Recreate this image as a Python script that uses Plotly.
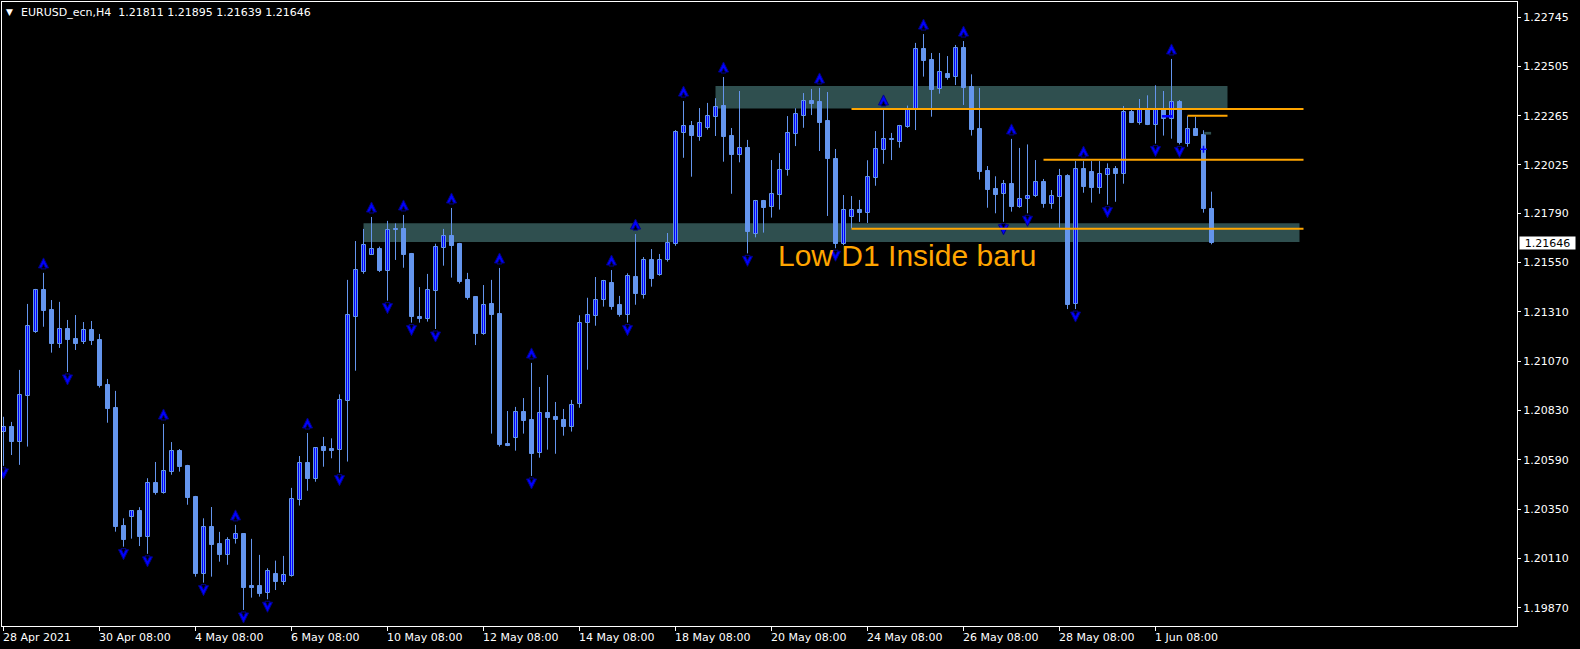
import plotly.graph_objects as go

SYMBOL = "EURUSD_ecn,H4"

OPEN = [1.20728, 1.20750, 1.20679, 1.20903, 1.21214, 1.21415, 1.21320, 1.21156, 1.21227, 1.21179,
        1.21162, 1.21222, 1.21174, 1.20955, 1.20843, 1.20269, 1.20311, 1.20342, 1.20214, 1.20478,
        1.20431, 1.20530, 1.20634, 1.20561, 1.20410, 1.20037, 1.20264, 1.20181, 1.20126, 1.20204,
        1.20230, 1.19975, 1.19977, 1.19941, 1.20037, 1.19996, 1.20027, 1.20397, 1.20574, 1.20499,
        1.20652, 1.20642, 1.20640, 1.20878, 1.21287, 1.21506, 1.21589, 1.21616, 1.21511, 1.21714,
        1.21714, 1.21592, 1.21284, 1.21277, 1.21413, 1.21623, 1.21680, 1.21641, 1.21466, 1.21383,
        1.21204, 1.21349, 1.21300, 1.20668, 1.20698, 1.20823, 1.20784, 1.20625, 1.20817, 1.20798,
        1.20784, 1.20752, 1.20861, 1.21255, 1.21292, 1.21367, 1.21451, 1.21342, 1.21297, 1.21480,
        1.21394, 1.21561, 1.21491, 1.21564, 1.21642, 1.22182, 1.22215, 1.22163, 1.22206, 1.22260,
        1.22312, 1.22165, 1.22075, 1.22108, 1.21689, 1.21848, 1.21819, 1.21881, 1.21999, 1.22177,
        1.22265, 1.22335, 1.22332, 1.22239, 1.22054, 1.21642, 1.21774, 1.21805, 1.21793, 1.21963,
        1.22099, 1.22153, 1.22138, 1.22211, 1.22291, 1.22589, 1.22536, 1.22393, 1.22466, 1.22452,
        1.22594, 1.22404, 1.22200, 1.21996, 1.21908, 1.21882, 1.21931, 1.21822, 1.21858, 1.21876,
        1.21942, 1.21837, 1.21871, 1.21970, 1.21347, 1.22004, 1.21991, 1.21915, 1.21978, 1.22004,
        1.21983, 1.22281, 1.22231, 1.22297, 1.22221, 1.22297, 1.22247, 1.22330, 1.22126, 1.22199,
        1.22171, 1.21811]
HIGH = [1.20800, 1.20775, 1.21028, 1.21349, 1.21422, 1.21500, 1.21368, 1.21359, 1.21271, 1.21295,
        1.21261, 1.21266, 1.21203, 1.20984, 1.20926, 1.20306, 1.20342, 1.20360, 1.20501, 1.20580,
        1.20765, 1.20677, 1.20643, 1.20566, 1.20415, 1.20306, 1.20361, 1.20240, 1.20214, 1.20274,
        1.20232, 1.20206, 1.20128, 1.20063, 1.20100, 1.20123, 1.20454, 1.20609, 1.20721, 1.20652,
        1.20702, 1.20695, 1.20909, 1.21466, 1.21655, 1.21714, 1.21772, 1.21628, 1.21753, 1.21741,
        1.21782, 1.21597, 1.21431, 1.21495, 1.21642, 1.21714, 1.21816, 1.21646, 1.21500, 1.21385,
        1.21441, 1.21466, 1.21524, 1.20828, 1.20848, 1.20891, 1.21062, 1.20945, 1.21003, 1.20872,
        1.20838, 1.20882, 1.21294, 1.21379, 1.21480, 1.21466, 1.21514, 1.21388, 1.21498, 1.21689,
        1.21577, 1.21616, 1.21592, 1.21694, 1.22195, 1.22336, 1.22239, 1.22302, 1.22327, 1.22350,
        1.22453, 1.22205, 1.22385, 1.22147, 1.21855, 1.21855, 1.22049, 1.22083, 1.22263, 1.22301,
        1.22375, 1.22395, 1.22400, 1.22380, 1.22103, 1.21879, 1.21874, 1.21855, 1.22048, 1.22190,
        1.22293, 1.22181, 1.22220, 1.22314, 1.22619, 1.22662, 1.22570, 1.22570, 1.22555, 1.22609,
        1.22628, 1.22466, 1.22400, 1.22020, 1.21970, 1.21952, 1.22152, 1.22108, 1.22125, 1.22049,
        1.21957, 1.21903, 1.22006, 1.21980, 1.22044, 1.22044, 1.22044, 1.22044, 1.22033, 1.22020,
        1.22312, 1.22293, 1.22346, 1.22364, 1.22413, 1.22385, 1.22541, 1.22341, 1.22263, 1.22260,
        1.22194, 1.21895]
LOW = [1.20561, 1.20614, 1.20566, 1.20655, 1.21208, 1.21238, 1.21112, 1.21135, 1.21018, 1.21125,
       1.21154, 1.21149, 1.20942, 1.20771, 1.20241, 1.20168, 1.20207, 1.20171, 1.20133, 1.20421,
       1.20426, 1.20518, 1.20533, 1.20372, 1.20022, 1.19993, 1.20022, 1.20095, 1.20080, 1.20183,
       1.19860, 1.19920, 1.19925, 1.19912, 1.19957, 1.19982, 1.20022, 1.20368, 1.20440, 1.20484,
       1.20557, 1.20598, 1.20528, 1.20582, 1.21024, 1.21496, 1.21587, 1.21504, 1.21365, 1.21563,
       1.21525, 1.21258, 1.21258, 1.21263, 1.21227, 1.21535, 1.21477, 1.21448, 1.21370, 1.21149,
       1.21199, 1.20718, 1.20655, 1.20657, 1.20635, 1.20718, 1.20512, 1.20601, 1.20640, 1.20620,
       1.20708, 1.20728, 1.20844, 1.21029, 1.21243, 1.21336, 1.21321, 1.21287, 1.21258, 1.21345,
       1.21375, 1.21433, 1.21486, 1.21555, 1.21632, 1.22060, 1.21968, 1.22143, 1.22197, 1.22166,
       1.22041, 1.21885, 1.22038, 1.21595, 1.21673, 1.21696, 1.21769, 1.21808, 1.21973, 1.22117,
       1.22206, 1.22268, 1.22093, 1.21777, 1.21620, 1.21635, 1.21717, 1.21748, 1.21743, 1.21924,
       1.22031, 1.22049, 1.22109, 1.22206, 1.22195, 1.22455, 1.22260, 1.22372, 1.22440, 1.22414,
       1.22317, 1.22168, 1.21954, 1.21817, 1.21790, 1.21749, 1.21798, 1.21817, 1.21790, 1.21869,
       1.21817, 1.21812, 1.21720, 1.21324, 1.21324, 1.21890, 1.21842, 1.21885, 1.21832, 1.21846,
       1.21934, 1.22229, 1.22221, 1.22219, 1.22129, 1.22168, 1.22153, 1.22125, 1.22114, 1.22166,
       1.21793, 1.21639]
CLOSE = [1.20749, 1.20677, 1.20905, 1.21240, 1.21415, 1.21316, 1.21156, 1.21226, 1.21175, 1.21156,
         1.21221, 1.21170, 1.20950, 1.20839, 1.20265, 1.20202, 1.20340, 1.20214, 1.20476, 1.20431,
         1.20535, 1.20632, 1.20557, 1.20406, 1.20037, 1.20262, 1.20178, 1.20129, 1.20199, 1.20228,
         1.19969, 1.19969, 1.19938, 1.20048, 1.19996, 1.20029, 1.20399, 1.20574, 1.20497, 1.20647,
         1.20635, 1.20635, 1.20880, 1.21294, 1.21513, 1.21634, 1.21615, 1.21508, 1.21707, 1.21707,
         1.21587, 1.21286, 1.21277, 1.21415, 1.21625, 1.21678, 1.21631, 1.21456, 1.21379, 1.21203,
         1.21342, 1.21295, 1.20663, 1.20659, 1.20822, 1.20781, 1.20620, 1.20817, 1.20796, 1.20786,
         1.20752, 1.20856, 1.21255, 1.21294, 1.21367, 1.21459, 1.21334, 1.21297, 1.21484, 1.21397,
         1.21561, 1.21472, 1.21561, 1.21644, 1.22184, 1.22213, 1.22166, 1.22228, 1.22262, 1.22309,
         1.22161, 1.22075, 1.22106, 1.21699, 1.21848, 1.21817, 1.21882, 1.21999, 1.22179, 1.22273,
         1.22335, 1.22323, 1.22231, 1.22054, 1.21639, 1.21805, 1.21805, 1.21793, 1.21965, 1.22101,
         1.22150, 1.22148, 1.22213, 1.22291, 1.22588, 1.22532, 1.22391, 1.22476, 1.22450, 1.22594,
         1.22401, 1.22197, 1.21992, 1.21905, 1.21881, 1.21931, 1.21822, 1.21860, 1.21874, 1.21941,
         1.21837, 1.21873, 1.21970, 1.21344, 1.22004, 1.21919, 1.21915, 1.21980, 1.22004, 1.21983,
         1.22281, 1.22231, 1.22297, 1.22221, 1.22297, 1.22247, 1.22330, 1.22134, 1.22199, 1.22168,
         1.21812, 1.21646]

X_TICK_INDEX = [0, 12, 24, 36, 48, 60, 72, 84, 96, 108, 120, 132, 144]
X_TICK_LABELS = ["28 Apr 2021", "30 Apr 08:00", "4 May 08:00", "6 May 08:00", "10 May 08:00",
                 "12 May 08:00", "14 May 08:00", "18 May 08:00", "20 May 08:00", "24 May 08:00",
                 "26 May 08:00", "28 May 08:00", "1 Jun 08:00"]
Y_TICK_LABELS = ["1.22745", "1.22505", "1.22265", "1.22025", "1.21790", "1.21550", "1.21310",
                 "1.21070", "1.20830", "1.20590", "1.20350", "1.20110", "1.19870"]

UP_FRACTALS = [5, 20, 29, 38, 46, 50, 56, 62, 66, 76, 79, 85, 90, 102, 110, 115, 120, 126, 135, 146]
DOWN_FRACTALS = [0, 8, 15, 18, 25, 30, 33, 42, 48, 51, 54, 66, 78, 93, 104, 125, 128, 134, 138, 144, 147]

ZONE_START = [45, 89]
ZONE_END = [162, 153]
ZONE_LOW = [1.21650, 1.22300]
ZONE_HIGH = [1.21741, 1.22409]

LEVEL_START = [106, 130, 106, 148]
LEVEL_END = [162.5, 162.5, 162.5, 153]
LEVEL_PRICE = [1.22298, 1.22051, 1.21715, 1.22265]

LABEL_TEXT = "Low D1 Inside baru"

BG = "black"
BULL_FILL = "#0000FF"
CANDLE_LINE = "#6495ED"
ZONE_COLOR = "#2F4F4F"
LEVEL_COLOR = "#FFA500"
ARROW_FILL = "#0000FF"
ARROW_EDGE = "#00008B"
FONT = "DejaVu Sans"

PX = 0.00004865  # price per screen pixel of this chart

n = len(CLOSE)
idx = list(range(n))
bull = [i for i in idx if CLOSE[i] >= OPEN[i]]
bear = [i for i in idx if CLOSE[i] < OPEN[i]]

fig = go.Figure()

# wicks
wx, wy = [], []
for i in idx:
    wx += [i, i, None]
    wy += [LOW[i], HIGH[i], None]
fig.add_trace(go.Scatter(x=wx, y=wy, mode="lines", line=dict(color=CANDLE_LINE, width=1),
                         hoverinfo="skip"))

# bodies
fig.add_trace(go.Bar(x=bull, base=[OPEN[i] for i in bull], y=[CLOSE[i] - OPEN[i] for i in bull],
                     width=0.5, marker=dict(color=BULL_FILL, line=dict(color=CANDLE_LINE, width=1))))
fig.add_trace(go.Bar(x=bear, base=[CLOSE[i] for i in bear], y=[OPEN[i] - CLOSE[i] for i in bear],
                     width=0.5, marker=dict(color=CANDLE_LINE, line=dict(color=CANDLE_LINE, width=1))))

# fractal arrows (dart shaped: arrowhead with a notch)
fig.add_trace(go.Scatter(x=UP_FRACTALS, y=[HIGH[i] + 15 * PX for i in UP_FRACTALS], mode="markers",
                         marker=dict(symbol="arrow-up", size=10, color=ARROW_FILL,
                                     line=dict(color=ARROW_EDGE, width=1)), hoverinfo="skip"))
fig.add_trace(go.Scatter(x=UP_FRACTALS, y=[HIGH[i] + 9 * PX for i in UP_FRACTALS], mode="markers",
                         marker=dict(symbol="arrow-up", size=5, color=BG,
                                     line=dict(color=ARROW_EDGE, width=1)), hoverinfo="skip"))
fig.add_trace(go.Scatter(x=DOWN_FRACTALS, y=[LOW[i] - 13 * PX for i in DOWN_FRACTALS], mode="markers",
                         marker=dict(symbol="arrow-down", size=10, color=ARROW_FILL,
                                     line=dict(color=ARROW_EDGE, width=1)), hoverinfo="skip"))
fig.add_trace(go.Scatter(x=DOWN_FRACTALS, y=[LOW[i] - 7 * PX for i in DOWN_FRACTALS], mode="markers",
                         marker=dict(symbol="arrow-down", size=5, color=BG,
                                     line=dict(color=ARROW_EDGE, width=1)), hoverinfo="skip"))

# cursor cross
fig.add_trace(go.Scatter(x=[150], y=[1.22101], mode="markers",
                         marker=dict(symbol="cross-thin", size=5, line=dict(color="#0000FF", width=1.5)),
                         hoverinfo="skip"))

shapes = []
for x0, x1, y0, y1 in zip(ZONE_START, ZONE_END, ZONE_LOW, ZONE_HIGH):
    shapes.append(dict(type="rect", xref="x", yref="y", x0=x0, x1=x1, y0=y0, y1=y1,
                       fillcolor=ZONE_COLOR, line=dict(width=0), layer="below"))
for x0, x1, p in zip(LEVEL_START, LEVEL_END, LEVEL_PRICE):
    shapes.append(dict(type="line", xref="x", yref="y", x0=x0, x1=x1, y0=p, y1=p,
                       line=dict(color=LEVEL_COLOR, width=2), layer="above"))
shapes.append(dict(type="line", xref="x", yref="y", x0=144.8, x1=146.1, y0=1.22262, y1=1.22262,
                   line=dict(color="#0000FF", width=2.5), layer="above"))
shapes.append(dict(type="rect", xref="x", yref="y", x0=150.1, x1=150.95, y0=1.22173, y1=1.22186,
                   fillcolor=ZONE_COLOR, line=dict(width=0), layer="above"))

annotations = []
for i, lab in zip(X_TICK_INDEX, X_TICK_LABELS):
    annotations.append(dict(x=i, xref="x", y=0, yref="paper", text=lab, showarrow=False,
                            xanchor="left", yanchor="middle", xshift=-3, yshift=-11,
                            font=dict(family=FONT, size=11, color="white")))
annotations.append(dict(x=0, xref="paper", y=1, yref="paper", text="▼", showarrow=False,
                        xanchor="left", yanchor="middle", xshift=2, yshift=-9.5,
                        font=dict(family=FONT, size=9, color="white")))
header = f"{SYMBOL}\u00a0\u00a0{OPEN[-1]:.5f} {HIGH[-1]:.5f} {LOW[-1]:.5f} {CLOSE[-1]:.5f}"
annotations.append(dict(x=0, xref="paper", y=1, yref="paper", text=header, showarrow=False,
                        xanchor="left", yanchor="middle", xshift=17, yshift=-10,
                        font=dict(family=FONT, size=11, color="white")))
annotations.append(dict(x=96.56, xref="x", y=1.21587, yref="y", text=LABEL_TEXT, showarrow=False,
                        xanchor="left", yanchor="middle",
                        font=dict(family="Liberation Sans", size=30, color=LEVEL_COLOR)))
annotations.append(dict(x=1, xref="paper", y=CLOSE[-1], yref="y", text=f"{CLOSE[-1]:.5f}",
                        showarrow=False, xanchor="left", yanchor="middle", xshift=2,
                        width=55, height=12, align="center", bgcolor="white", borderpad=0,
                        font=dict(family=FONT, size=11, color="black")))

fig.update_layout(
    width=1580, height=649,
    margin=dict(l=2, r=63, t=2, b=23, pad=0),
    paper_bgcolor=BG, plot_bgcolor=BG,
    showlegend=False, barmode="overlay", bargap=0,
    shapes=shapes, annotations=annotations,
    xaxis=dict(range=[-0.1875, 189.1875], showgrid=False, zeroline=False, showline=True,
               linecolor="white", linewidth=1, mirror=True, ticks="outside", ticklen=4,
               tickcolor="white", tickvals=X_TICK_INDEX, showticklabels=False, fixedrange=True),
    yaxis=dict(side="right", range=[1.19782, 1.22818], showgrid=False, zeroline=False,
               showline=True, linecolor="white", linewidth=1, mirror=True, ticks="outside",
               ticklen=3, tickcolor="white", tickvals=[float(t) for t in Y_TICK_LABELS],
               ticktext=Y_TICK_LABELS, tickfont=dict(family=FONT, size=11, color="white"),
               fixedrange=True),
)

fig.write_html("out.html", config={"displayModeBar": False},
               post_script="document.body.style.margin='0';")
